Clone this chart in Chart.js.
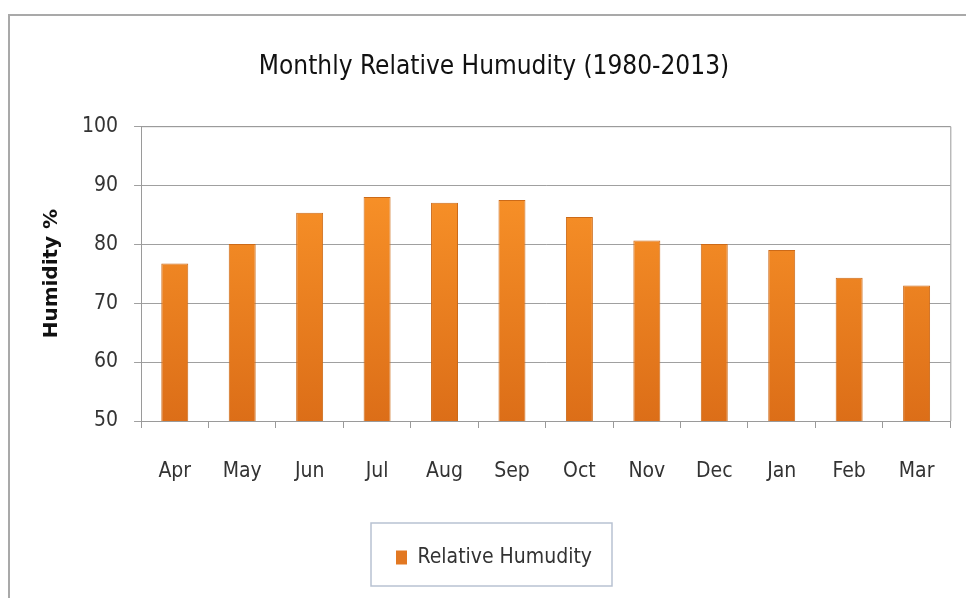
<!DOCTYPE html>
<html>
<head>
<meta charset="utf-8">
<script src="https://cdn.jsdelivr.net/npm/chart.js@4.4.1/dist/chart.umd.min.js"></script>
<style>
  html, body { margin: 0; padding: 0; background: #fff; overflow: hidden; }
  #frame { position: absolute; left: 8px; top: 14px; width: 990px; height: 620px; border: 2px solid #a9a9a9; }
  #wrap { position: absolute; left: 0; top: 0; width: 966px; height: 598px; }
</style>
</head>
<body>
<div id="frame"></div>
<div id="wrap"><canvas id="chart"></canvas></div>
<script>
// DATA
const months = ['Apr', 'May', 'Jun', 'Jul', 'Aug', 'Sep', 'Oct', 'Nov', 'Dec', 'Jan', 'Feb', 'Mar'];
const humidity = [76.7, 80.0, 85.3, 88.0, 87.0, 87.5, 84.6, 80.6, 80.0, 79.0, 74.3, 73.0];
const yTicks = [50, 60, 70, 80, 90, 100];

const narrow = "'Liberation Sans Narrow', 'DejaVu Sans Condensed', 'Arial Narrow', sans-serif";

// orange gradient, lighter at the top like the Excel bars
function barFill(context) {
  const area = context.chart.chartArea;
  if (!area) return '#f28a22';
  const g = context.chart.ctx.createLinearGradient(0, area.top, 0, area.bottom);
  g.addColorStop(0, '#ff9a2c');
  g.addColorStop(1, '#dc6e18');
  return g;
}

// plot frame + box round the legend
const framePlugin = {
  id: 'frames',
  afterDraw(chart) {
    const ctx = chart.ctx;
    const a = chart.chartArea;
    ctx.save();
    ctx.strokeStyle = '#9a9a9a';
    ctx.lineWidth = 1;
    ctx.beginPath();
    ctx.moveTo(a.left, a.top + 0.5);
    ctx.lineTo(a.right + 0.5, a.top + 0.5);
    ctx.lineTo(a.right + 0.5, a.bottom);
    ctx.stroke();

    const hb = chart.legend.legendHitBoxes[0];
    if (hb) {
      ctx.strokeStyle = '#b8c2d2';
      ctx.lineWidth = 1.5;
      ctx.strokeRect(hb.left - 25, hb.top - 24, hb.width + 45, hb.height + 42);
    }
    ctx.restore();
  }
};

new Chart(document.getElementById('chart'), {
  type: 'bar',
  data: {
    labels: months,
    datasets: [{
      label: 'Relative Humudity',
      data: humidity,
      backgroundColor: barFill,
      borderColor: '#cc6a18',
      borderWidth: 1,
      barPercentage: 0.4,
      categoryPercentage: 1.0
    }]
  },
  options: {
    responsive: true,
    maintainAspectRatio: false,
    animation: false,
    layout: { padding: { left: 36, right: 14, top: 0, bottom: 20 } },
    plugins: {
      title: {
        display: true,
        text: 'Monthly Relative Humudity (1980-2013)',
        color: '#111',
        font: { family: narrow, size: 26, weight: 'normal' },
        padding: { top: 52, bottom: 43 }
      },
      legend: {
        position: 'bottom',
        labels: {
          color: '#333',
          font: { family: narrow, size: 21 },
          boxWidth: 11,
          boxHeight: 14,
          padding: 10,
          generateLabels(chart) {
            return [{
              text: chart.data.datasets[0].label,
              fillStyle: '#e27822',
              strokeStyle: '#e27822',
              lineWidth: 0,
              fontColor: '#333',
              datasetIndex: 0
            }];
          }
        }
      },
      tooltip: { enabled: false }
    },
    scales: {
      x: {
        grid: { display: true, drawOnChartArea: false, offset: true, tickLength: 7, color: '#9a9a9a' },
        border: { color: '#9a9a9a' },
        ticks: { color: '#333', font: { family: narrow, size: 21 }, padding: 31 },
        afterFit(scale) { scale.height = 116; }
      },
      y: {
        min: 50,
        max: 100,
        afterBuildTicks(scale) { scale.ticks = yTicks.map(v => ({ value: v })); },
        grid: { color: '#a0a0a0', tickLength: 7 },
        border: { color: '#9a9a9a' },
        ticks: { color: '#333', font: { family: narrow, size: 21 }, padding: 16 },
        title: {
          display: true,
          text: 'Humidity %',
          color: '#111',
          font: { family: "'DejaVu Sans', sans-serif", size: 20, weight: 'bold' },
          padding: { top: 4, bottom: 2 }
        }
      }
    }
  },
  plugins: [framePlugin]
});
</script>
</body>
</html>
